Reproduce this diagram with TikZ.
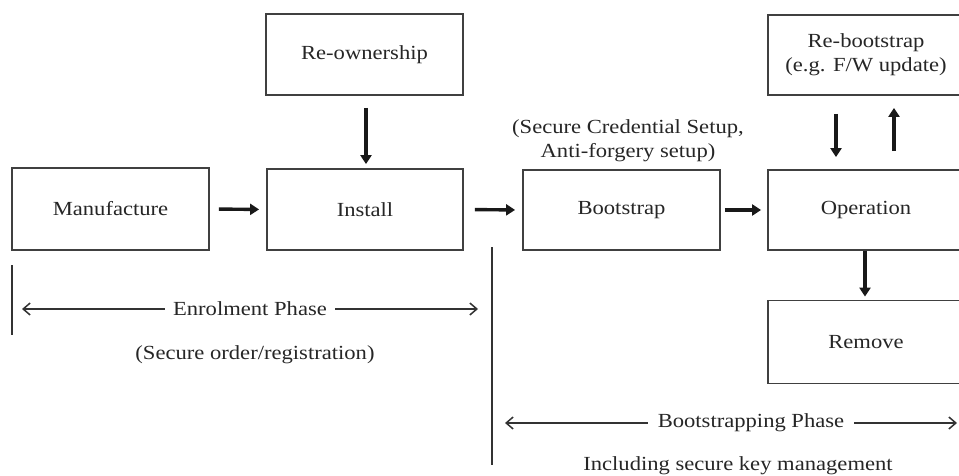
\documentclass[tikz,border=0pt]{standalone}
\usepackage{fontspec}
\setmainfont{Liberation Serif}[FakeStretch=1.13]
\usetikzlibrary{arrows.meta}
\begin{document}
\begin{tikzpicture}[x=1pt,y=-1pt,
  stage/.style={draw=black!75, line width=1.8pt, fill=white, inner sep=0pt,
    align=center, font=\fontsize{20}{24}\selectfont, text=black!85},
  flow/.style={line width=3.4pt, black!90, -{Triangle[length=9pt,width=11pt]}},
  span/.style={line width=1.5pt, black!80, {Straight Barb[length=7pt,width=12pt]}-{Straight Barb[length=7pt,width=12pt]}},
  rule/.style={line width=1.8pt, black!80},
  note/.style={font=\fontsize{20}{24}\selectfont, text=black!85, align=center, inner sep=1pt}]
\useasboundingbox (0,0) rectangle (959,476);
\clip (0,0) rectangle (959,476);

% lifecycle stages
\node[stage, minimum width=197pt, minimum height=82pt] (manu) at (110.5,209) {Manufacture};
\node[stage, minimum width=196pt, minimum height=81pt] (install) at (365,209.5) {Install};
\node[stage, minimum width=197pt, minimum height=81pt] (reown) at (364.5,54.5) {Re-ownership};
\node[stage, minimum width=197pt, minimum height=80pt] (boot) at (621.5,210) {Bootstrap};
\node[stage, minimum width=196pt, minimum height=80pt] (op) at (866,210) {Operation};
\node[stage, minimum width=196pt, minimum height=80pt] (rebs) at (866,55) {Re-bootstrap\\(e.g. F/W update)};
\node[stage, minimum width=196pt, minimum height=83pt] (rem) at (866,342) {Remove};

% bootstrap annotation
\node[note] (cred) at (628,141) {(Secure Credential Setup,\\Anti-forgery setup)};

% flow arrows
\draw[flow, shorten <=9pt, shorten >=7pt] (manu.east) -- (install.west);
\draw[flow, shorten <=11pt, shorten >=7pt] (install.east) -- (boot.west);
\draw[flow, shorten <=4pt, shorten >=6pt] (boot.east) -- (op.west);
\draw[flow, shorten <=12pt, shorten >=4pt] ([xshift=1.5pt]reown.south) -- ([xshift=1pt]install.north);
\draw[flow, shorten <=18pt, shorten >=12pt] ([xshift=-30pt]rebs.south) -- ([xshift=-30pt]op.north);
\draw[flow, shorten <=18pt, shorten >=12pt] ([xshift=28pt]op.north) -- ([xshift=28pt]rebs.south);
\draw[flow, shorten <=0pt, shorten >=3pt] ([xshift=-1pt]op.south) -- ([xshift=-1pt]rem.north);

% phase markers
\coordinate (e0) at (12,265);
\coordinate (e1) at (12,335);
\draw[rule] (e0) -- (e1);
\coordinate (b0) at (492,247);
\coordinate (b1) at (492,465);
\draw[rule] (b0) -- (b1);

\coordinate (ea) at (22,309);
\coordinate (eb) at (478,309);
\draw[span] (ea) -- (eb);
\node[note, fill=white, inner xsep=8pt] (enrol) at (250,309) {Enrolment Phase};
\node[note] (enrolsub) at (255,355) {(Secure order/registration)};

\coordinate (ba) at (505,423);
\coordinate (bb) at (957,423);
\draw[span] (ba) -- (bb);
\node[note, fill=white, inner xsep=10pt] (bootph) at (751,423) {Bootstrapping Phase};
\node[note] (bootsub) at (738,466) {Including secure key management};
\end{tikzpicture}
\end{document}
